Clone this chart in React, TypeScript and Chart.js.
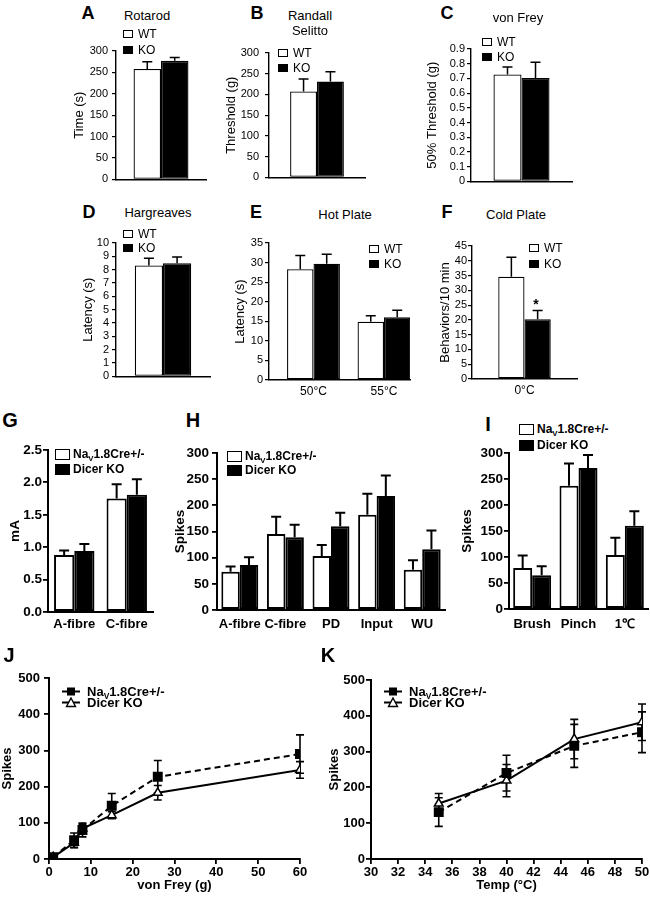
import React, { useEffect, useRef } from 'react';
import { Chart, registerables } from 'chart.js';

Chart.register(...registerables);

const FONT = "'Liberation Sans', Arial, Helvetica, sans-serif";

// ---------------- data ----------------
// A Rotarod
const aWT = [258];
const aWTErr = [17];
const aKO = [277];
const aKOErr = [8];
// B Randall Selitto
const bWT = [207];
const bWTErr = [30];
const bKO = [231];
const bKOErr = [24];
// C von Frey
const cWT = [0.727];
const cWTErr = [0.05];
const cKO = [0.703];
const cKOErr = [0.107];
// D Hargreaves
const dWT = [8.32];
const dWTErr = [0.53];
const dKO = [8.49];
const dKOErr = [0.46];
// E Hot Plate
const eCats = ['50°C', '55°C'];
const eWT = [28.3, 14.9];
const eWTErr = [3.5, 1.5];
const eKO = [29.7, 16.0];
const eKOErr = [2.4, 1.8];
// F Cold Plate
const fCats = ['0°C'];
const fWT = [34.6];
const fWTErr = [6.6];
const fKO = [20.2];
const fKOErr = [3.0];
// G mA
const gCats = ['A-fibre', 'C-fibre'];
const gWT = [0.88, 1.75];
const gWTErr = [0.07, 0.22];
const gKO = [0.94, 1.81];
const gKOErr = [0.11, 0.24];
// H spikes
const hCats = ['A-fibre', 'C-fibre', 'PD', 'Input', 'WU'];
const hWT = [73, 145, 103, 182, 77];
const hWTErr = [10, 33, 21, 40, 18];
const hKO = [86, 139, 160, 218, 116];
const hKOErr = [15, 24, 26, 39, 36];
// I spikes
const iCats = ['Brush', 'Pinch', '1\u2103'];
const iWT = [79, 237, 104];
const iWTErr = [24, 43, 33];
const iKO = [65, 271, 160];
const iKOErr = [17, 25, 28];
// J von Frey curve
const jX = [1, 6, 8, 15, 26, 60];
const jNav = [5, 52, 80, 147, 227, 290];
const jNavErr = [4, 20, 19, 34, 45, 53];
const jDicer = [5, 45, 84, 121, 183, 246];
const jDicerErr = [3, 14, 12, 10, 20, 23];
// K temperature curve
const kX = [35, 40, 45, 50];
const kNav = [131, 240, 316, 354];
const kNavErr = [40, 50, 60, 57];
const kDicer = [155, 219, 335, 382];
const kDicerErr = [28, 45, 55, 51];

// ---------------- plugin ----------------
const errorBars = {
  id: 'errorBars',
  beforeDatasetsDraw(chart: any) {
    const ctx = chart.ctx;
    chart.data.datasets.forEach((ds: any, i: number) => {
      if (!ds.errors) return;
      const meta = chart.getDatasetMeta(i);
      const ys = chart.scales[meta.yAxisID];
      ctx.save();
      ctx.strokeStyle = '#000';
      ctx.lineWidth = ds.errWidth ?? 1.5;
      ctx.setLineDash([]);
      meta.data.forEach((el: any, j: number) => {
        const raw = ds.data[j];
        const v = typeof raw === 'number' ? raw : raw.y;
        const e = ds.errors[j];
        const cap = ds.errCap ?? 5;
        const top = ys.getPixelForValue(v + e);
        const bottom = ds.errBoth ? ys.getPixelForValue(v - e) : el.y;
        ctx.beginPath();
        ctx.moveTo(el.x, bottom);
        ctx.lineTo(el.x, top);
        ctx.moveTo(el.x - cap, top);
        ctx.lineTo(el.x + cap, top);
        if (ds.errBoth) {
          ctx.moveTo(el.x - cap, bottom);
          ctx.lineTo(el.x + cap, bottom);
        }
        ctx.stroke();
      });
      ctx.restore();
    });
  },
};

type Box = { x: number; y: number; w: number; h: number };

function makeBar(o: any) {
  const yW = o.plot.l - o.box.x;
  const xH = o.box.y + o.box.h - o.plot.b;
  const weight = o.bold ? 'bold' : 'normal';
  const pack = (vals: number[]) => (o.linearX ? vals.map((v, i) => ({ x: i, y: v })) : vals);
  const mkDs = (label: string, vals: number[], errs: number[], fill: string) => ({
    label,
    data: pack(vals),
    errors: errs,
    errWidth: o.errWidth,
    errCap: o.errCap,
    backgroundColor: fill,
    borderColor: '#000',
    borderWidth: o.barBorder,
    borderSkipped: false,
    categoryPercentage: o.catPct,
    barPercentage: 1,
  });
  const xTicks: any = {
    display: !!o.showX,
    color: '#000',
    padding: o.xPad ?? 3,
    font: { family: FONT, size: o.xSize ?? 12, weight },
    maxRotation: 0,
    autoSkip: false,
  };
  let x: any;
  if (o.linearX) {
    x = {
      type: 'linear',
      min: o.linearX[0],
      max: o.linearX[1],
      offset: false,
      afterBuildTicks: (s: any) => {
        s.ticks = o.labels.map((_: any, i: number) => ({ value: i }));
      },
      ticks: { ...xTicks, callback: (v: number) => o.labels[v] ?? '' },
    };
  } else {
    x = { type: 'category', offset: true, ticks: xTicks };
  }
  x.grid = { display: false, drawTicks: false, tickLength: 0 };
  x.border = { display: true, color: '#000', width: o.axisWidth };
  x.afterFit = (s: any) => {
    s.height = xH;
  };
  const yTicks: any = {
    stepSize: o.step,
    autoSkip: false,
    color: '#000',
    padding: o.tickPad,
    font: { family: FONT, size: o.tickSize, weight },
  };
  if (o.fmt) yTicks.callback = o.fmt;
  return {
    type: 'bar',
    data: {
      labels: o.labels,
      datasets: [mkDs('WT', o.wt, o.wtErr, '#fff'), mkDs('KO', o.ko, o.koErr, '#000')],
    },
    options: {
      animation: false,
      responsive: false,
      maintainAspectRatio: false,
      layout: {
        padding: { top: o.plot.t - o.box.y, right: o.box.x + o.box.w - o.plot.r, left: 0, bottom: 0 },
      },
      plugins: { legend: { display: false }, tooltip: { enabled: false }, title: { display: false } },
      scales: {
        x,
        y: {
          type: 'linear',
          min: 0,
          max: o.max,
          ticks: yTicks,
          grid: { drawOnChartArea: false, drawTicks: true, tickLength: o.tickLen, color: '#000', lineWidth: o.tickWidth },
          border: { display: true, color: '#000', width: o.axisWidth },
          title: {
            display: true,
            text: o.yTitle,
            color: '#000',
            padding: 0,
            font: { family: FONT, size: o.titleSize, weight },
          },
          afterFit: (s: any) => {
            s.width = yW;
          },
        },
      },
    },
    plugins: [errorBars],
  };
}

function makeLine(o: any) {
  const yW = o.plot.l - o.box.x;
  const xH = o.box.y + o.box.h - o.plot.b;
  const font = { family: FONT, size: 13, weight: 'bold' };
  const tfont = { family: FONT, size: 13, weight: 'bold' };
  return {
    type: 'line',
    data: {
      datasets: [
        {
          label: 'NaV1.8Cre+/-',
          data: o.xs.map((xv: number, i: number) => ({ x: xv, y: o.nav[i] })),
          errors: o.navErr,
          errBoth: true,
          errWidth: 1.6,
          errCap: 4,
          borderColor: '#000',
          borderWidth: 2,
          borderDash: [6, 4],
          pointStyle: 'rect',
          pointRadius: 5.6,
          pointBackgroundColor: '#000',
          pointBorderColor: '#000',
          tension: 0,
          fill: false,
        },
        {
          label: 'Dicer KO',
          data: o.xs.map((xv: number, i: number) => ({ x: xv, y: o.dicer[i] })),
          errors: o.dicerErr,
          errBoth: true,
          errWidth: 1.6,
          errCap: 4,
          borderColor: '#000',
          borderWidth: 2,
          pointStyle: 'triangle',
          pointRadius: 5,
          pointBackgroundColor: '#fff',
          pointBorderColor: '#000',
          pointBorderWidth: 1.5,
          tension: 0,
          fill: false,
        },
      ],
    },
    options: {
      animation: false,
      responsive: false,
      maintainAspectRatio: false,
      layout: {
        padding: { top: o.plot.t - o.box.y, right: o.box.x + o.box.w - o.plot.r, left: 0, bottom: 0 },
      },
      plugins: { legend: { display: false }, tooltip: { enabled: false }, title: { display: false } },
      scales: {
        x: {
          type: 'linear',
          min: o.xMin,
          max: o.xMax,
          ticks: { stepSize: o.xStep, color: '#000', padding: o.xPad, font, maxRotation: 0, autoSkip: false },
          grid: { drawOnChartArea: false, drawTicks: true, tickLength: 5, color: '#000', lineWidth: 1.8 },
          border: { display: true, color: '#000', width: 2 },
          title: { display: true, text: o.xTitle, color: '#000', padding: 0, font: tfont },
          afterFit: (s: any) => {
            s.height = xH;
          },
        },
        y: {
          type: 'linear',
          min: 0,
          max: 500,
          ticks: { stepSize: 100, autoSkip: false, color: '#000', padding: o.yPad, font },
          grid: { drawOnChartArea: false, drawTicks: true, tickLength: 5, color: '#000', lineWidth: 1.8 },
          border: { display: true, color: '#000', width: 2 },
          title: { display: true, text: 'Spikes', color: '#000', padding: 0, font: tfont },
          afterFit: (s: any) => {
            s.width = yW;
          },
        },
      },
    },
    plugins: [errorBars],
  };
}

// ---------------- components ----------------
function ChartCanvas({ box, build }: { box: Box; build: () => any }) {
  const ref = useRef<HTMLCanvasElement>(null);
  useEffect(() => {
    const chart = new Chart(ref.current as HTMLCanvasElement, build());
    return () => chart.destroy();
  }, []);
  return (
    <canvas
      ref={ref}
      width={box.w}
      height={box.h}
      style={{ position: 'absolute', left: box.x, top: box.y, width: box.w, height: box.h }}
    />
  );
}

function Txt({ x, y, size, bold, children, left }: any) {
  return (
    <div
      style={{
        position: 'absolute',
        left: x,
        top: y,
        transform: left ? 'translate(0,-50%)' : 'translate(-50%,-50%)',
        fontFamily: FONT,
        fontSize: size,
        fontWeight: bold ? 'bold' : 'normal',
        lineHeight: 1,
        whiteSpace: 'nowrap',
        color: '#000',
      }}
    >
      {children}
    </div>
  );
}

function LegItem({ x, y, w, h, fill, size, bold, bw, gap, children }: any) {
  return (
    <div
      style={{
        position: 'absolute',
        left: x,
        top: y,
        transform: 'translate(0,-50%)',
        display: 'flex',
        alignItems: 'center',
        fontFamily: FONT,
        fontSize: size,
        fontWeight: bold ? 'bold' : 'normal',
        lineHeight: 1,
        whiteSpace: 'nowrap',
      }}
    >
      <span
        style={{
          display: 'inline-block',
          width: w,
          height: h,
          background: fill,
          border: `${bw}px solid #000`,
          boxSizing: 'border-box',
          marginRight: gap,
        }}
      />
      <span>{children}</span>
    </div>
  );
}

function LineLeg({ x, y, marker, children }: any) {
  return (
    <div
      style={{
        position: 'absolute',
        left: x,
        top: y,
        transform: 'translate(0,-50%)',
        display: 'flex',
        alignItems: 'center',
        fontFamily: FONT,
        fontSize: 13,
        fontWeight: 'bold',
        lineHeight: 1,
        whiteSpace: 'nowrap',
      }}
    >
      <svg width={18} height={12} style={{ marginRight: 7, display: 'block' }}>
        <line x1={0} y1={6} x2={18} y2={6} stroke="#000" strokeWidth={2} />
        {marker === 'square' ? (
          <rect x={5} y={2} width={8} height={8} fill="#000" />
        ) : (
          <polygon points="9,1.5 13.5,10 4.5,10" fill="#fff" stroke="#000" strokeWidth={1.4} />
        )}
      </svg>
      <span>{children}</span>
    </div>
  );
}

const NavLabel = () => (
  <span>
    Na<span style={{ fontSize: '0.65em', position: 'relative', top: '0.35em' }}>V</span>1.8Cre+/-
  </span>
);

const topCommon = {
  bold: false,
  barBorder: 1.3,
  axisWidth: 1.4,
  tickLen: 4,
  tickWidth: 1.2,
  tickSize: 11,
  titleSize: 13,
  errWidth: 1.5,
  errCap: 5,
};

const midCommon = {
  bold: true,
  barBorder: 2,
  axisWidth: 2,
  tickLen: 5,
  tickWidth: 1.8,
  tickSize: 13.5,
  titleSize: 13.5,
  errWidth: 2,
  errCap: 5,
  showX: true,
  xSize: 13,
  xPad: 5,
};

const panels: { box: Box; build: () => any }[] = [
  {
    box: { x: 72, y: 35, w: 143, h: 155 },
    build: () =>
      makeBar({ ...topCommon, box: { x: 72, y: 35, w: 143, h: 155 }, plot: { l: 116, r: 206, t: 51, b: 183 },
        labels: ['Rotarod'], wt: aWT, wtErr: aWTErr, ko: aKO, koErr: aKOErr, max: 300, step: 50,
        yTitle: 'Time (s)', catPct: 0.61, tickPad: 4 }),
  },
  {
    box: { x: 224, y: 37, w: 151, h: 153 },
    build: () =>
      makeBar({ ...topCommon, box: { x: 224, y: 37, w: 151, h: 153 }, plot: { l: 269, r: 365, t: 53, b: 183 },
        labels: ['Randall Selitto'], wt: bWT, wtErr: bWTErr, ko: bKO, koErr: bKOErr, max: 300, step: 50,
        yTitle: 'Threshold (g)', catPct: 0.56, tickPad: 6 }),
  },
  {
    box: { x: 425, y: 33, w: 157, h: 157 },
    build: () =>
      makeBar({ ...topCommon, box: { x: 425, y: 33, w: 157, h: 157 }, plot: { l: 471, r: 572, t: 49, b: 183 },
        labels: ['von Frey'], wt: cWT, wtErr: cWTErr, ko: cKO, koErr: cKOErr, max: 0.9, step: 0.1,
        yTitle: '50% Threshold (g)', catPct: 0.555, tickPad: 2 }),
  },
  {
    box: { x: 81, y: 228, w: 139, h: 158 },
    build: () =>
      makeBar({ ...topCommon, box: { x: 81, y: 228, w: 139, h: 158 }, plot: { l: 116, r: 210, t: 243, b: 379 },
        labels: ['Hargreaves'], wt: dWT, wtErr: dWTErr, ko: dKO, koErr: dKOErr, max: 10, step: 1,
        yTitle: 'Latency (s)', catPct: 0.6, tickPad: 3 }),
  },
  {
    box: { x: 233, y: 228, w: 187, h: 172 },
    build: () =>
      makeBar({ ...topCommon, box: { x: 233, y: 228, w: 187, h: 172 }, plot: { l: 269, r: 410, t: 243, b: 380 },
        labels: eCats, wt: eWT, wtErr: eWTErr, ko: eKO, koErr: eKOErr, max: 35, step: 5,
        yTitle: 'Latency (s)', catPct: 0.75, tickPad: 2, showX: true, xSize: 12, xPad: 4,
        linearX: [-0.631, 1.369] }),
  },
  {
    box: { x: 438, y: 231, w: 152, h: 168 },
    build: () =>
      makeBar({ ...topCommon, box: { x: 438, y: 231, w: 152, h: 168 }, plot: { l: 472, r: 577, t: 246, b: 379 },
        labels: fCats, wt: fWT, wtErr: fWTErr, ko: fKO, koErr: fKOErr, max: 45, step: 5,
        yTitle: 'Behaviors/10 min', catPct: 0.5, tickPad: 1, showX: true, xSize: 12, xPad: 4 }),
  },
  {
    box: { x: 7, y: 435, w: 153, h: 202 },
    build: () =>
      makeBar({ ...midCommon, box: { x: 7, y: 435, w: 153, h: 202 }, plot: { l: 48, r: 153, t: 450, b: 612 },
        labels: gCats, wt: gWT, wtErr: gWTErr, ko: gKO, koErr: gKOErr, max: 2.5, step: 0.5,
        yTitle: 'mA', catPct: 0.77, tickPad: 1, fmt: (v: number) => v.toFixed(1) }),
  },
  {
    box: { x: 172, y: 438, w: 278, h: 197 },
    build: () =>
      makeBar({ ...midCommon, box: { x: 172, y: 438, w: 278, h: 197 }, plot: { l: 217, r: 445, t: 453, b: 610 },
        labels: hCats, wt: hWT, wtErr: hWTErr, ko: hKO, koErr: hKOErr, max: 300, step: 50,
        yTitle: 'Spikes', catPct: 0.81, tickPad: 3, xPad: 7 }),
  },
  {
    box: { x: 459, y: 438, w: 191, h: 196 },
    build: () =>
      makeBar({ ...midCommon, box: { x: 459, y: 438, w: 191, h: 196 }, plot: { l: 509, r: 648, t: 453, b: 609 },
        labels: iCats, wt: iWT, wtErr: iWTErr, ko: iKO, koErr: iKOErr, max: 300, step: 50,
        yTitle: 'Spikes', catPct: 0.82, tickPad: 1, xPad: 8 }),
  },
  {
    box: { x: 0, y: 663, w: 316, h: 230 },
    build: () =>
      makeLine({ box: { x: 0, y: 663, w: 316, h: 230 }, plot: { l: 49, r: 300, t: 678, b: 859 },
        xs: jX, nav: jNav, navErr: jNavErr, dicer: jDicer, dicerErr: jDicerErr,
        xMin: 0, xMax: 60, xStep: 10, xTitle: 'von Frey (g)', xPad: 1, yPad: 4 }),
  },
  {
    box: { x: 327, y: 665, w: 329, h: 228 },
    build: () =>
      makeLine({ box: { x: 327, y: 665, w: 329, h: 228 }, plot: { l: 371, r: 642, t: 680, b: 859 },
        xs: kX, nav: kNav, navErr: kNavErr, dicer: kDicer, dicerErr: kDicerErr,
        xMin: 30, xMax: 50, xStep: 2, xTitle: 'Temp (\u00B0C)', xPad: 1, yPad: 1 }),
  },
];

const topLeg = (x: number, y1: number, y2: number) => (
  <>
    <LegItem x={x} y={y1} w={10} h={8} fill="#fff" size={12} bw={1.2} gap={5}>WT</LegItem>
    <LegItem x={x} y={y2} w={10} h={8} fill="#000" size={12} bw={1.2} gap={5}>KO</LegItem>
  </>
);

const midLeg = (x: number, y1: number, y2: number) => (
  <>
    <LegItem x={x} y={y1} w={15} h={11} fill="#fff" size={12} bold bw={1.6} gap={3}><NavLabel /></LegItem>
    <LegItem x={x} y={y2} w={15} h={11} fill="#000" size={12} bold bw={1.6} gap={3}>Dicer KO</LegItem>
  </>
);

export default function App() {
  return (
    <div
      style={{
        position: 'absolute',
        left: 0,
        top: 0,
        width: 650,
        height: 899,
        background: '#fff',
        overflow: 'hidden',
        fontFamily: FONT,
      }}
    >
      {panels.map((p, i) => (
        <ChartCanvas key={i} box={p.box} build={p.build} />
      ))}

      {/* panel letters */}
      <Txt x={88} y={13} size={18} bold>A</Txt>
      <Txt x={257} y={13} size={18} bold>B</Txt>
      <Txt x={447} y={13} size={18} bold>C</Txt>
      <Txt x={89} y={212} size={18} bold>D</Txt>
      <Txt x={256} y={212} size={18} bold>E</Txt>
      <Txt x={447} y={212} size={18} bold>F</Txt>
      <Txt x={10} y={420} size={20} bold>G</Txt>
      <Txt x={193} y={420} size={20} bold>H</Txt>
      <Txt x={488} y={424} size={20} bold>I</Txt>
      <Txt x={9} y={655} size={20} bold>J</Txt>
      <Txt x={328} y={655} size={20} bold>K</Txt>

      {/* titles */}
      <Txt x={147} y={15} size={13}>Rotarod</Txt>
      <Txt x={310} y={15} size={13}>Randall</Txt>
      <Txt x={310} y={30} size={13}>Selitto</Txt>
      <Txt x={518} y={17} size={13}>von Frey</Txt>
      <Txt x={158} y={212} size={13}>Hargreaves</Txt>
      <Txt x={345} y={214} size={13}>Hot Plate</Txt>
      <Txt x={516} y={214} size={13}>Cold Plate</Txt>

      {/* legends */}
      {topLeg(123, 34, 50)}
      {topLeg(278, 53, 68)}
      {topLeg(482, 42, 57)}
      {topLeg(123, 234, 248)}
      {topLeg(369, 249, 264)}
      {topLeg(529, 248, 264)}
      {midLeg(55, 454, 469)}
      {midLeg(227, 456, 470)}
      {midLeg(519, 429, 445)}
      <LineLeg x={62} y={691} marker="square">
        <NavLabel />
      </LineLeg>
      <LineLeg x={62} y={702} marker="triangle">Dicer KO</LineLeg>
      <LineLeg x={384} y={691} marker="square">
        <NavLabel />
      </LineLeg>
      <LineLeg x={384} y={702} marker="triangle">Dicer KO</LineLeg>

      {/* significance */}
      <Txt x={536} y={304} size={14} bold>*</Txt>
    </div>
  );
}
